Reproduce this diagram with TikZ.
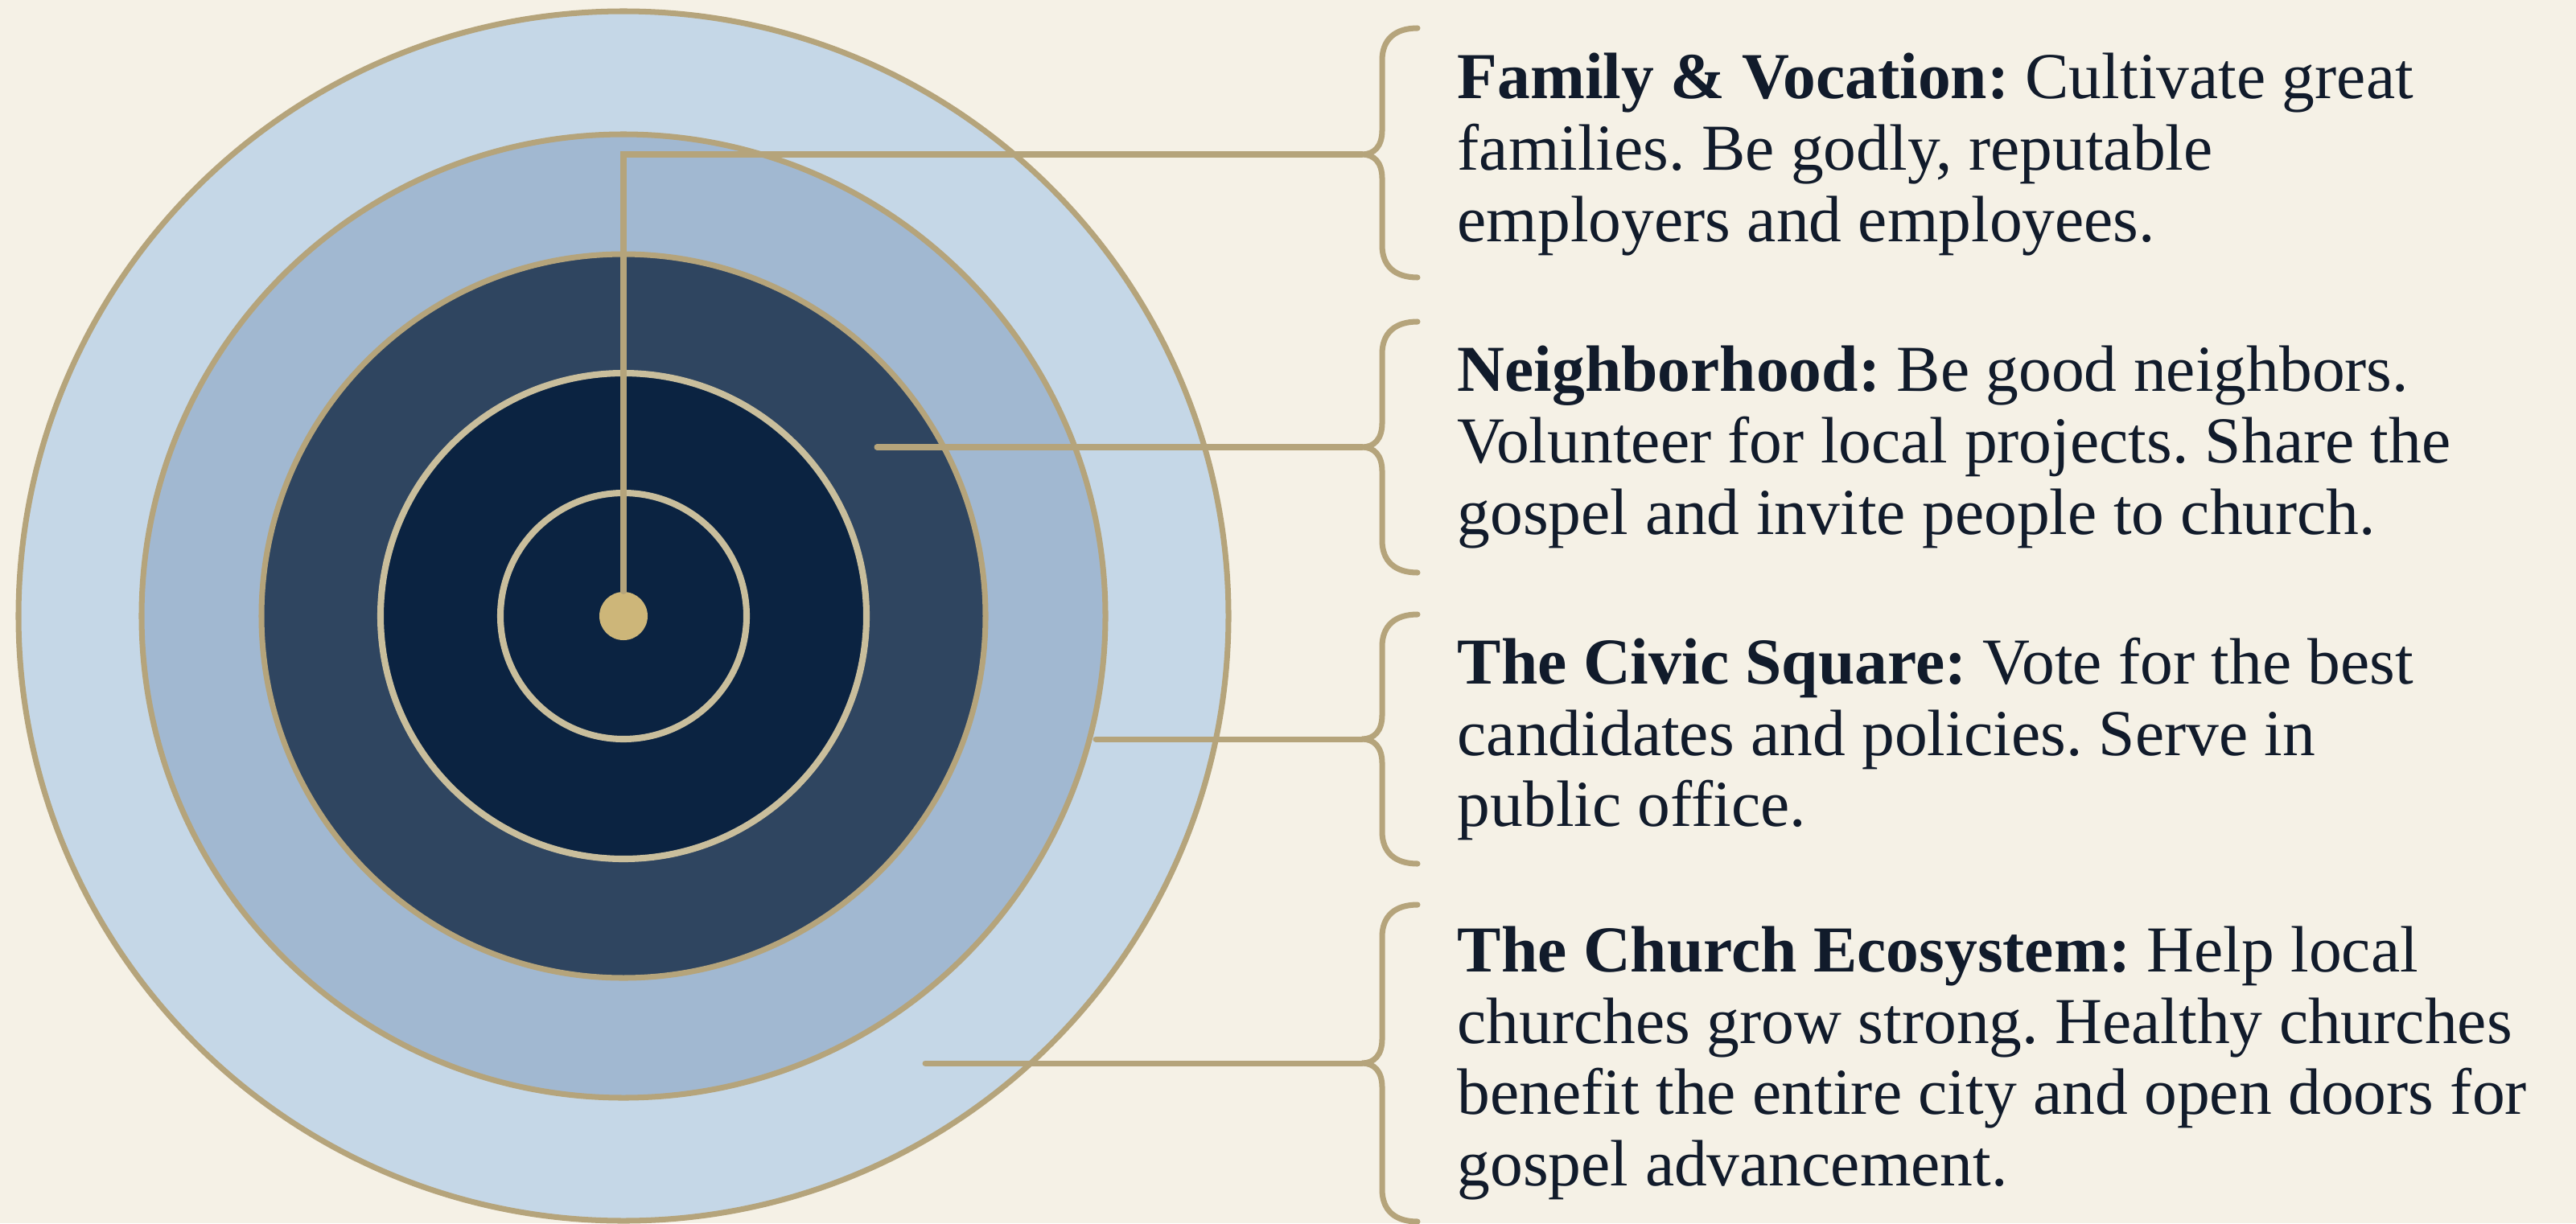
\documentclass[tikz,border=0pt]{standalone}
\usepackage{fontspec}
\setmainfont{Liberation Serif}
\usetikzlibrary{positioning}
\definecolor{paper}{HTML}{F5F1E6}
\definecolor{sky}{HTML}{C5D7E7}
\definecolor{steel}{HTML}{A1B8D1}
\definecolor{slate}{HTML}{2F4560}
\definecolor{navy}{HTML}{0B2341}
\definecolor{gold}{HTML}{B5A47B}
\definecolor{palegold}{HTML}{C9BE9C}
\definecolor{dotgold}{HTML}{CDB679}
\definecolor{ink}{HTML}{111B2B}
\newcommand\ringbrace[3]{
  \draw[goldline] (17.62,#1) .. controls (17.34,#1) and (17.18,#1-0.14) .. (17.18,#1-0.40)
    -- (17.18,#2+0.30) .. controls (17.18,#2+0.10) and (17.08,#2) .. (16.93,#2)
    .. controls (17.08,#2) and (17.18,#2-0.10) .. (17.18,#2-0.30)
    -- (17.18,#3+0.40) .. controls (17.18,#3+0.14) and (17.34,#3) .. (17.62,#3);
}
\frenchspacing

\begin{document}
\begin{tikzpicture}[
    goldline/.style={draw=gold, line width=2pt, line cap=round},
    ring/.style={draw=gold, line width=2pt},
    innerring/.style={draw=palegold, line width=2.3pt},
    blurb/.style={inner sep=0, align=left, text=ink, font=\fontsize{23.2}{25.3}\selectfont}
  ]
  \fill[paper] (0,0) rectangle (32.02,-15.21);
  \useasboundingbox (0,0) rectangle (32.02,-15.21);

  % target
  \coordinate (c) at (7.75,-7.66);
  \filldraw[ring, fill=sky] (c) circle (7.52);
  \filldraw[ring, fill=steel] (c) circle (5.99);
  \filldraw[ring, fill=slate] (c) circle (4.50);
  \filldraw[innerring, fill=navy] (c) circle (3.02);
  \draw[innerring] (c) circle (1.53);
  \node[circle, fill=dotgold, minimum size=0.60cm, inner sep=0] (hub) at (c) {};

  % braces
  \ringbrace{-0.35}{-1.92}{-3.45}
  \ringbrace{-4.00}{-5.56}{-7.12}
  \ringbrace{-7.64}{-9.19}{-10.74}
  \ringbrace{-11.25}{-13.22}{-15.19}
  \coordinate (t1) at (16.93,-1.92);
  \coordinate (t2) at (16.93,-5.56);
  \coordinate (t3) at (16.93,-9.19);
  \coordinate (t4) at (16.93,-13.22);

  % leaders
  \coordinate (s2) at (10.90,-5.56);
  \coordinate (s3) at (13.62,-9.19);
  \coordinate (s4) at (11.50,-13.22);
  \draw[goldline] (hub) |- (t1);
  \draw[goldline] (s2) -- (t2);
  \draw[goldline] (s3) -- (t3);
  \draw[goldline] (s4) -- (t4);

  % texts
  \node[blurb, right=1.18cm of t1] (fam) {\textbf{Family \& Vocation:} Cultivate great\\families. Be godly, reputable\\employers and employees.};
  \node[blurb, right=1.18cm of t2] (hood) {\textbf{Neighborhood:} Be good neighbors.\\Volunteer for local projects. Share the\\gospel and invite people to church.};
  \node[blurb, right=1.18cm of t3] (civic) {\textbf{The Civic Square:} Vote for the best\\candidates and policies. Serve in\\public office.};
  \node[blurb, right=1.18cm of t4] (church) {\textbf{The Church Ecosystem:} Help local\\churches grow strong. Healthy churches\\benefit the entire city and open doors for\\gospel advancement.};
\end{tikzpicture}
\end{document}
